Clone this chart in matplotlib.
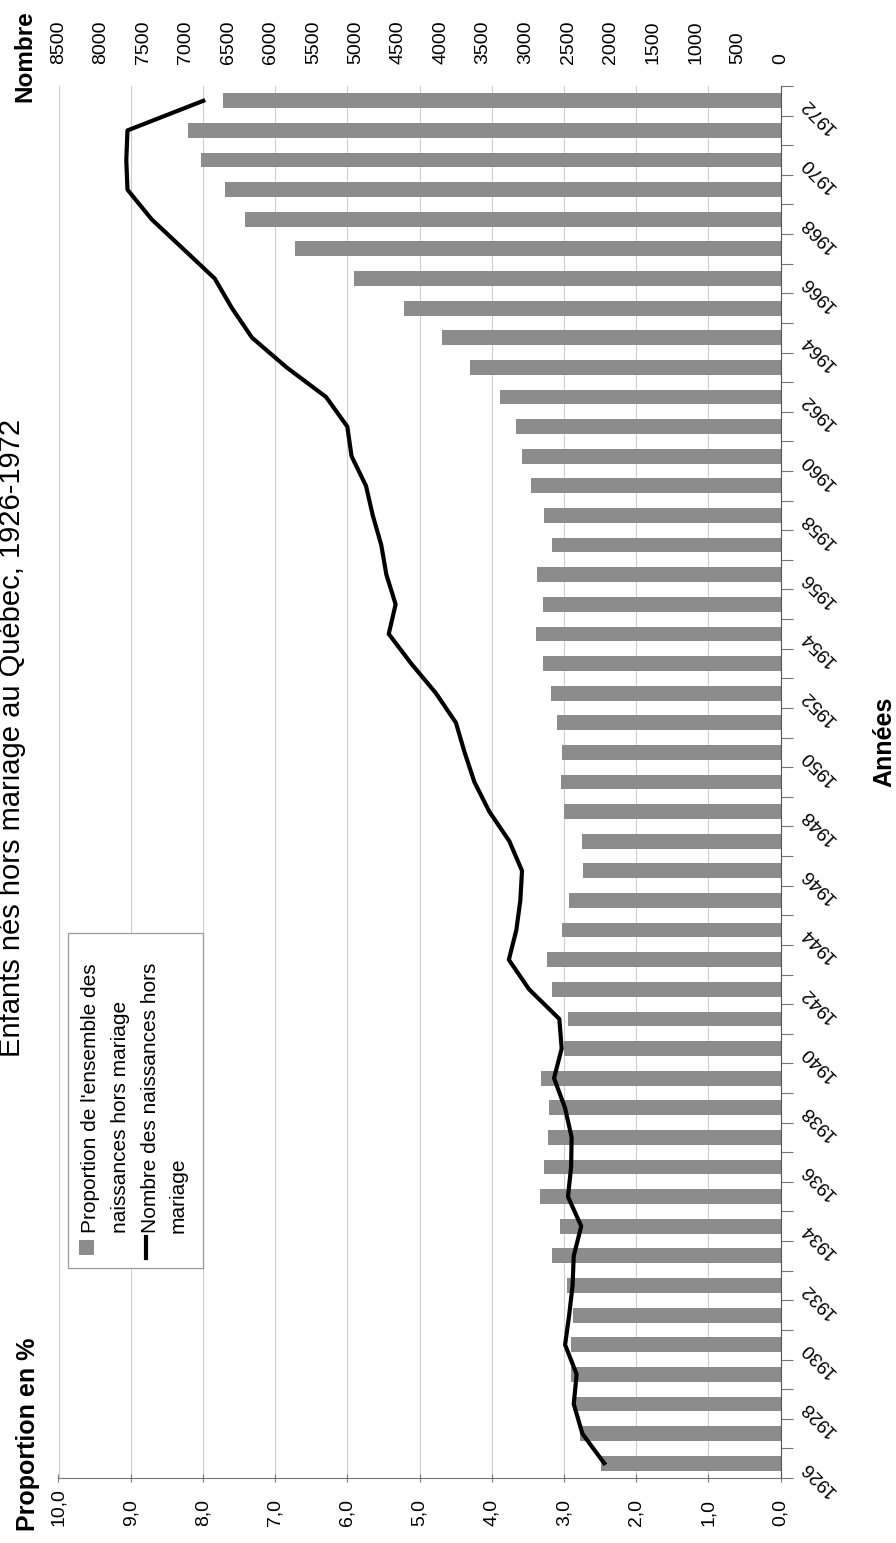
import matplotlib
matplotlib.use("Agg")
import matplotlib.pyplot as plt
from matplotlib.patches import Rectangle
from matplotlib.lines import Line2D
import numpy as np

plt.rcParams["font.family"] = ["Liberation Sans", "DejaVu Sans"]

# Enfants nés hors mariage au Québec, 1926-1972
years = list(range(1926, 1973))
proportion = [2.49, 2.78, 2.88, 2.90, 2.90, 2.88, 2.96, 3.16, 3.05, 3.33,
              3.27, 3.22, 3.21, 3.32, 3.00, 2.95, 3.17, 3.24, 3.02, 2.93,
              2.73, 2.75, 3.00, 3.04, 3.03, 3.10, 3.18, 3.29, 3.39, 3.29,
              3.37, 3.17, 3.28, 3.46, 3.58, 3.67, 3.89, 4.30, 4.69, 5.21,
              5.91, 6.72, 7.41, 7.70, 8.02, 8.21, 7.72]
nombre = [2076, 2333, 2434, 2400, 2536, 2488, 2448, 2434, 2346, 2502,
          2465, 2459, 2537, 2666, 2576, 2604, 2960, 3198, 3110, 3063,
          3043, 3192, 3428, 3604, 3719, 3821, 4057, 4348, 4612, 4531,
          4640, 4700, 4800, 4880, 5050, 5100, 5350, 5815, 6221, 6458,
          6661, 7032, 7404, 7688, 7702, 7688, 6796]
prop_ticks = np.arange(0, 11, 1)
nombre_ticks = np.arange(0, 8501, 500)
year_ticks = years[::2]

title = "Enfants nés hors mariage au Québec, 1926-1972"
lab_bars = ["Proportion de l'ensemble des", "naissances hors mariage"]
lab_line = ["Nombre des naissances hors", "mariage"]

W, H = 896, 1543


def fx(px):
    return px / W


def fy(py):
    return 1 - py / H


fig = plt.figure(figsize=(W / 100, H / 100), dpi=100)
# chart is laid out turned a quarter turn: years run up the right side
ax = fig.add_axes([fx(58.5), fy(1478), fx(780.5) - fx(58.5), fy(86) - fy(1478)])

ax.barh(years, proportion, height=0.5, color="#8c8c8c", zorder=2)
ax.set_xlim(10, 0)
ax.set_ylim(years[0] - 0.5, years[-1] + 0.5)
ax.set_axisbelow(True)
ax.grid(axis="x", color="#cdcdcd", lw=0.8)

ax.spines["top"].set_visible(False)
ax.spines["left"].set_color("#cdcdcd")
ax.spines["right"].set_color("#555555")
ax.spines["bottom"].set_color("#777777")

# proportion scale along the bottom
ax.set_xticks(prop_ticks)
ax.set_xticklabels([f"{v:.1f}".replace(".", ",") for v in prop_ticks])
ax.tick_params(axis="x", direction="inout", length=6, width=0.8, color="#777777",
               pad=31.5, labelsize=14)
for t in ax.get_xticklabels():
    t.set_rotation(90)
    t.set_va("bottom")
    t.set_ha("center")

# years on the right
ax.yaxis.set_ticks_position("right")
ax.set_yticks(year_ticks)
ax.set_yticklabels([str(y) for y in year_ticks])
ax.set_yticks(np.arange(years[0] - 0.5, years[-1] + 1.0, 1.0), minor=True)
ax.tick_params(axis="y", which="major", length=0, pad=17, labelsize=13.5)
ax.tick_params(axis="y", which="minor", length=8.5, width=0.8, color="#777777",
               direction="out")
for t in ax.get_yticklabels():
    t.set_rotation(135)
    t.set_rotation_mode("anchor")
    t.set_ha("right")
    t.set_va("center")

# count scale along the top
ax2 = ax.twiny()
ax2.plot(nombre, years, color="black", lw=3.0, solid_joinstyle="round", zorder=3)
ax2.set_xlim(8500, 0)
for s in ax2.spines.values():
    s.set_visible(False)
ax2.set_xticks(nombre_ticks)
ax2.set_xticklabels([str(v) for v in nombre_ticks])
ax2.tick_params(axis="x", length=0, pad=15.5, labelsize=14)
for t in ax2.get_xticklabels():
    t.set_rotation(90)
    t.set_va("bottom")
    t.set_ha("center")

# axis titles
fig.text(fx(26), fy(738), title, rotation=90, fontsize=21, ha="right", va="center")
fig.text(fx(25), fy(56), "Nombre", rotation=90, fontsize=17.5, fontweight="bold",
         ha="center", va="center")
fig.text(fx(28), fy(1531), "Proportion en %", rotation=90, fontsize=18,
         fontweight="bold", ha="center", va="bottom")
fig.text(fx(884), fy(742), "Années", rotation=90, fontsize=18, fontweight="bold",
         ha="center", va="center")

# legend box, drawn turned like the rest of the chart
fig.patches.append(Rectangle((fx(68), fy(1268)), fx(203) - fx(68), fy(933) - fy(1268),
                             transform=fig.transFigure, facecolor="white",
                             edgecolor="#9a9a9a", lw=0.9, zorder=5))
fig.patches.append(Rectangle((fx(79), fy(1255)), fx(15), fy(0) - fy(15),
                             transform=fig.transFigure, facecolor="#8c8c8c",
                             edgecolor="none", zorder=6))
fig.lines.append(Line2D([fx(146), fx(146)], [fy(1258), fy(1237)],
                        transform=fig.transFigure, color="black", lw=3, zorder=6))
for xc, txt in zip([90, 121, 150, 178], lab_bars + lab_line):
    fig.text(fx(xc), fy(1233), txt, rotation=90, fontsize=15, ha="center",
             va="bottom", zorder=7)

fig.savefig("out.png", dpi=100)
